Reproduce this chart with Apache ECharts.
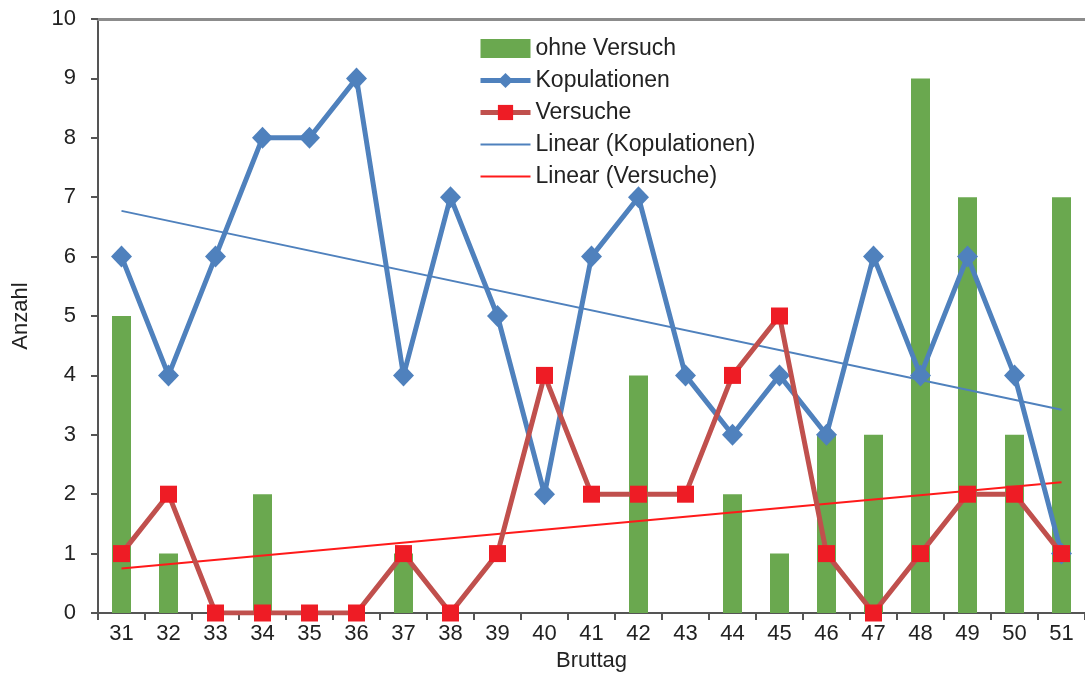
<!DOCTYPE html>
<html>
<head>
<meta charset="utf-8">
<script src="https://cdn.jsdelivr.net/npm/echarts@6/dist/echarts.min.js"></script>
<style>
html,body{margin:0;padding:0;background:#fff;}
#c{width:1085px;height:696px;}
</style>
</head>
<body>
<div id="c"></div>
<script>
const categories = ['31','32','33','34','35','36','37','38','39','40','41','42','43','44','45','46','47','48','49','50','51'];
const ohneVersuch = [5,1,0,2,0,0,1,0,0,0,0,4,0,2,1,3,3,9,7,3,7];
const kopulationen = [6,4,6,8,8,9,4,7,5,2,6,7,4,3,4,3,6,4,6,4,1];
const versuche = [1,2,0,0,0,0,1,0,1,4,2,2,2,4,5,1,0,1,2,2,1];
// trend line end values (at first and last category)
const kopTrendEnds = [6.77, 3.42];
const versTrendEnds = [0.75, 2.2];

const FONT = 'Liberation Sans, Arial, sans-serif';
const chart = echarts.init(document.getElementById('c'));
const last = categories.length - 1;

chart.setOption({
  animation: false,
  backgroundColor: '#fff',
  textStyle: {fontFamily: FONT},
  grid: {left: 98, top: 19, width: 992, height: 594, containLabel: false},
  legend: {
    left: 473, top: 32, orient: 'vertical', padding: 5,
    itemWidth: 50, itemHeight: 19, itemGap: 9,
    textStyle: {fontSize: 23, color: '#222', fontFamily: FONT},
    data: [
      {name: 'ohne Versuch', icon: 'rect'},
      {name: 'Kopulationen', lineStyle: {width: 5}},
      {name: 'Versuche', lineStyle: {width: 5}},
      {name: 'Linear (Kopulationen)', lineStyle: {width: 2}, itemStyle: {opacity: 0}},
      {name: 'Linear (Versuche)', lineStyle: {width: 2}, itemStyle: {opacity: 0}}
    ]
  },
  xAxis: [{
    type: 'category', data: categories, boundaryGap: true,
    name: 'Bruttag', nameLocation: 'middle', nameGap: 31,
    nameTextStyle: {fontSize: 22, color: '#222', fontFamily: FONT},
    axisLine: {lineStyle: {color: '#555', width: 2}},
    axisTick: {show: true, length: 7, alignWithLabel: false, lineStyle: {color: '#555', width: 2}},
    axisLabel: {fontSize: 22, color: '#222', margin: 10, fontFamily: FONT},
    splitLine: {show: false}
  }, {
    type: 'category', data: categories, position: 'top',
    axisLine: {show: true, onZero: false, lineStyle: {color: '#8c8c8c', width: 3}},
    axisTick: {show: false}, axisLabel: {show: false}, splitLine: {show: false}
  }],
  yAxis: {
    type: 'value', min: 0, max: 10, interval: 1,
    name: 'Anzahl', nameLocation: 'middle', nameGap: 66, nameRotate: 90,
    nameTextStyle: {fontSize: 22, color: '#222', fontFamily: FONT},
    axisLine: {show: true, lineStyle: {color: '#555', width: 2}},
    axisTick: {show: true, length: 7, lineStyle: {color: '#555', width: 2}},
    axisLabel: {fontSize: 22, color: '#222', margin: 22, fontFamily: FONT},
    splitLine: {show: false}
  },
  series: [
    {
      name: 'ohne Versuch', type: 'bar', data: ohneVersuch, barWidth: 19,
      itemStyle: {color: '#6aa84f'}, z: 1
    },
    {
      name: 'Linear (Kopulationen)', type: 'line',
      data: [[categories[0], kopTrendEnds[0]], [categories[last], kopTrendEnds[1]]],
      symbol: 'none', lineStyle: {color: '#4f81bd', width: 2}, itemStyle: {color: '#4f81bd'}, z: 2
    },
    {
      name: 'Linear (Versuche)', type: 'line',
      data: [[categories[0], versTrendEnds[0]], [categories[last], versTrendEnds[1]]],
      symbol: 'none', lineStyle: {color: '#ff1a1a', width: 2}, itemStyle: {color: '#ff1a1a'}, z: 2
    },
    {
      name: 'Kopulationen', type: 'line', data: kopulationen,
      symbol: 'diamond', symbolSize: [21, 22],
      lineStyle: {color: '#4f81bd', width: 5}, itemStyle: {color: '#4f81bd'}, z: 3
    },
    {
      name: 'Versuche', type: 'line', data: versuche,
      symbol: 'rect', symbolSize: 17,
      lineStyle: {color: '#c0504d', width: 5}, itemStyle: {color: '#ee1c25'}, z: 4
    }
  ]
});
</script>
</body>
</html>
